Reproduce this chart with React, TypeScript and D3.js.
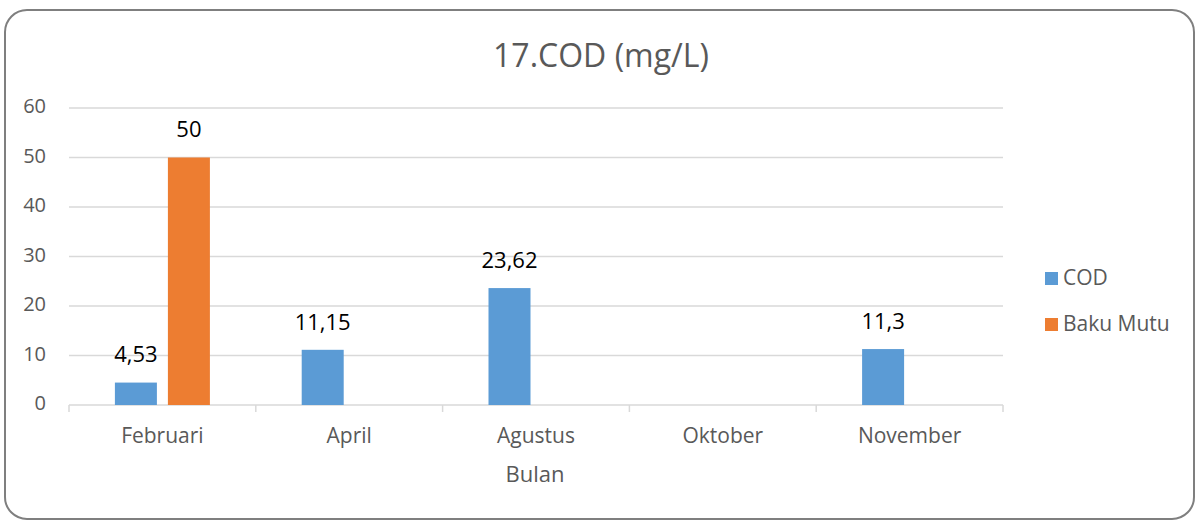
import React from "react";
import * as d3 from "d3";

const months = ["Februari", "April", "Agustus", "Oktober", "November"];
const codValues: (number | null)[] = [4.53, 11.15, 23.62, null, 11.3];
const bakuMutuValues: (number | null)[] = [50, null, null, null, null];
const seriesNames = ["COD", "Baku Mutu"];
const seriesColors = ["#5b9bd5", "#ed7d31"];
const yTicks = [0, 10, 20, 30, 40, 50, 60];

const W = 1198;
const H = 522;
const font = "'Open Sans', 'Liberation Sans', sans-serif";

export default function App() {
  const x = d3.scaleBand<string>().domain(months).range([69, 1003]);
  const y = d3.scaleLinear().domain([0, 60]).range([405, 108]);
  const barW = 42;
  const gap = 11;
  const fmt = (v: number) => String(v).replace(".", ",");
  const series = [codValues, bakuMutuValues];

  return (
    <svg width={W} height={H} style={{ position: "absolute", left: 0, top: 0 }}>
      <rect x={5} y={10} width={1189} height={509} rx={22} fill="#fff" stroke="#7f7f7f" strokeWidth={2} />
      <text x={601} y={58} textAnchor="middle" dominantBaseline="middle" fontFamily={font} fontSize={32} fill="#595959">
        17.COD (mg/L)
      </text>
      {yTicks.map((t) => (
        <g key={t}>
          <line x1={69} x2={1003} y1={y(t)} y2={y(t)} stroke="#d9d9d9" strokeWidth={1.5} />
          <text x={46} y={y(t)} textAnchor="end" dominantBaseline="middle" fontFamily={font} fontSize={20} fill="#595959">
            {t}
          </text>
        </g>
      ))}
      {d3.range(months.length + 1).map((i) => {
        const xx = 69 + i * x.bandwidth();
        return <line key={i} x1={xx} x2={xx} y1={y(0)} y2={y(0) + 7} stroke="#d9d9d9" strokeWidth={1.5} />;
      })}
      {months.map((m, i) => {
        const cx = (x(m) as number) + x.bandwidth() / 2;
        return (
          <g key={m}>
            {series.map((vals, s) => {
              const v = vals[i];
              if (v == null) return null;
              const bx = cx - gap / 2 - barW + s * (barW + gap);
              return (
                <g key={s}>
                  <rect x={bx} y={y(v)} width={barW} height={y(0) - y(v)} fill={seriesColors[s]} />
                  <text x={bx + barW / 2} y={y(v) - 26} textAnchor="middle" dominantBaseline="middle" fontFamily={font} fontSize={22} fill="#000">
                    {fmt(v)}
                  </text>
                </g>
              );
            })}
            <text x={cx} y={437} textAnchor="middle" dominantBaseline="middle" fontFamily={font} fontSize={21} fill="#595959">
              {m}
            </text>
          </g>
        );
      })}
      <text x={535} y={476} textAnchor="middle" dominantBaseline="middle" fontFamily={font} fontSize={22} fill="#595959">
        Bulan
      </text>
      {seriesNames.map((n, i) => (
        <g key={n}>
          <rect x={1045} y={272 + i * 46} width={13} height={13} fill={seriesColors[i]} />
          <text x={1063} y={279 + i * 46} dominantBaseline="middle" fontFamily={font} fontSize={21} fill="#595959">
            {n}
          </text>
        </g>
      ))}
    </svg>
  );
}
